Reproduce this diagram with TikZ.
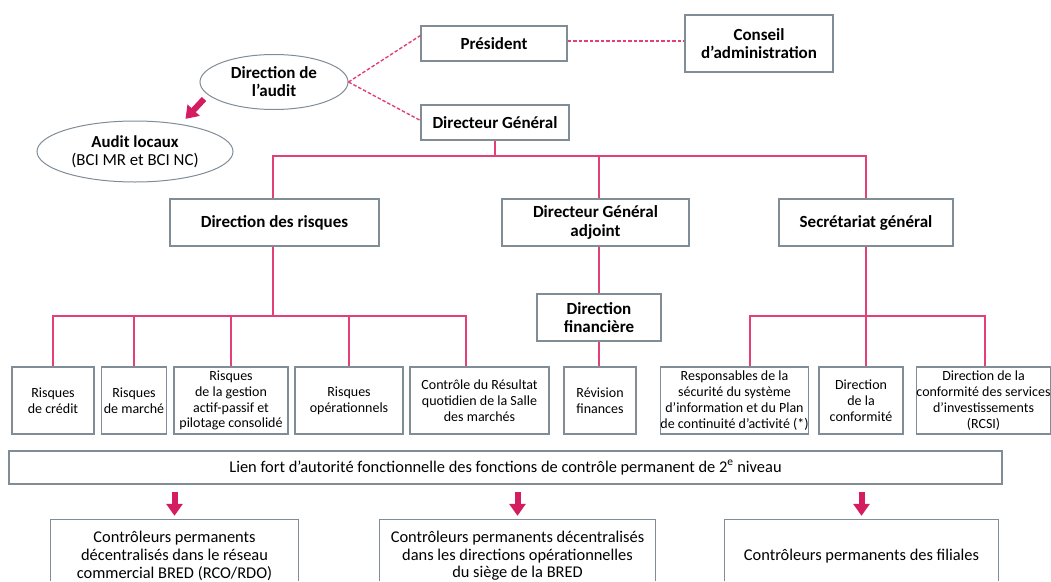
\documentclass[tikz,border=0pt]{standalone}
\usepackage{fontspec}
\setmainfont{Carlito}
\usetikzlibrary{positioning,arrows.meta,shapes.geometric}
\definecolor{boxgray}{RGB}{128,140,150}
\definecolor{linkpink}{RGB}{226,64,118}
\definecolor{arrowpink}{RGB}{212,28,96}
\tikzset{
  box/.style  = {rectangle, draw=boxgray, line width=1.1pt, fill=white,
                 align=center, inner sep=0pt},
  head/.style = {box, font=\bfseries\fontsize{17}{18.5}\selectfont},
  sub/.style  = {box, font=\fontsize{14}{15.8}\selectfont},
  low/.style  = {align=center, inner sep=0pt, font=\fontsize{16.4}{17.6}\selectfont},
  oval/.style = {ellipse, draw=boxgray, line width=1pt, align=center, inner sep=0pt},
  link/.style = {draw=linkpink, line width=1.5pt},
  dlink/.style= {draw=linkpink, dash pattern=on 3.5pt off 2pt, line width=1.4pt},
  bigarr/.style = {draw=arrowpink, fill=arrowpink, line width=6pt,
                   -{Triangle[length=12pt,width=16pt]}}
}

\begin{document}
\begin{tikzpicture}[x=1pt,y=-1pt]
  \useasboundingbox (0,0) rectangle (1051,581);
  \coordinate (bus) at (0,156);
  \coordinate (bus2) at (0,316);
  \coordinate (floor) at (0,581);
  % top
  \node[head,minimum width=146,minimum height=35] (pres) at (494,43.5) {Président};
  \node[head,minimum width=148,minimum height=57] (conseil) at (759,43.5) {Conseil\\d’administration};
  \node[head,minimum width=148,minimum height=35] (dg) at (495,122.5) {Directeur Général};
  \node[oval,minimum width=148,minimum height=55,font=\bfseries\fontsize{17}{18}\selectfont] (audit) at (274,82) {Direction de\\l’audit};
  \node[oval,minimum width=196,minimum height=61,font=\fontsize{16.8}{18}\selectfont] (locaux) at (135,151.5) {\textbf{Audit locaux}\\(BCI MR et BCI NC)};
  \coordinate (auditout) at (204,99);
  \draw[dlink] ([yshift=2.5pt]pres.east) -- ([yshift=2.5pt]conseil.west);
  \draw[dlink] (audit.east) -- ([yshift=8pt]pres.west);
  \draw[dlink] (audit.east) -- ([yshift=2pt]dg.west);
  \draw[bigarr,shorten >=7pt] (auditout) -- (locaux.31);
  % directions
  \node[head,minimum width=209,minimum height=47] (risques) at (274.5,222.5) {Direction des risques};
  \node[head,minimum width=187,minimum height=47] (dga) at (595.5,222.5) {Directeur Général\\adjoint};
  \node[head,minimum width=174,minimum height=47] (sg) at (866,222.5) {Secrétariat général};
  \node[head,minimum width=124,minimum height=47] (df) at (599,317.5) {Direction\\financière};
  \draw[link] (dg.south) -- (dg.south |- bus);
  \draw[link] ([xshift=-1.5pt]risques.north) |- (bus -| sg.north) -- (sg.north);
  \draw[link] (df.north |- bus) -- (df.north |- dga.north);
  \draw[link] (df.north |- dga.south) -- (df.north);
  % services
  \node[sub,minimum width=82,minimum height=67] (r1) at (53,400.5) {Risques\\de crédit};
  \node[sub,minimum width=65,minimum height=67] (r2) at (134,400.5) {Risques\\de marché};
  \node[sub,minimum width=114,minimum height=67] (r3) at (231,400.5) {Risques\\de la gestion\\actif-passif et\\pilotage consolidé};
  \node[sub,minimum width=108,minimum height=67] (r4) at (349,400.5) {Risques\\opérationnels};
  \node[sub,minimum width=139,minimum height=67] (r5) at (479.5,400.5) {Contrôle du Résultat\\quotidien de la Salle\\des marchés};
  \node[sub,minimum width=72,minimum height=67] (rev) at (600,400.5) {Révision\\finances};
  \node[sub,minimum width=147,minimum height=67] (s1) at (734.5,400.5) {Responsables de la\\sécurité du système\\d’information et du Plan\\de continuité d’activité (*)};
  \node[sub,minimum width=84,minimum height=67] (s2) at (861,400.5) {Direction\\de la\\conformité};
  \node[sub,minimum width=133,minimum height=67] (s3) at (983.5,400.5) {Direction de la\\conformité des services\\d’investissements\\(RCSI)};
  \draw[link] ([xshift=-1.5pt]risques.south) -- ([xshift=-1.5pt]risques.south |- bus2);
  \draw[link] (r1.north) |- ([xshift=-13.5pt]r5.north |- bus2) -- ([xshift=-13.5pt]r5.north);
  \foreach \b in {r2,r3,r4}
    \draw[link] (\b.north) -- (\b.north |- bus2);
  \draw[link] (df.south) -- (df.south |- rev.north);
  \draw[link] ([xshift=15.5pt]s1.north) |- ([xshift=1.5pt]bus2 -| s3.north) -- ([xshift=1.5pt]s3.north);
  \draw[link] (sg.south) -- (sg.south |- s2.north);
  % controle permanent
  \node[box,minimum width=993,minimum height=33,font=\fontsize{16.4}{18}\selectfont] (lien) at (505.5,467.5)
    {Lien fort d’autorité fonctionnelle des fonctions de contrôle permanent de 2\textsuperscript{e} niveau};
  \node[low,minimum width=247,minimum height=72] (ba) at (174.5,556) {Contrôleurs permanents\\décentralisés dans le réseau\\commercial BRED (RCO/RDO)};
  \node[low,minimum width=275,minimum height=72] (bb) at (517.5,556) {Contrôleurs permanents décentralisés\\dans les directions opérationnelles\\du siège de la BRED};
  \node[low,minimum width=273,minimum height=72] (bc) at (861.5,556) {Contrôleurs permanents des filiales};
  \foreach \b in {ba,bb,bc} {
    \draw[draw=boxgray,line width=1.1pt] (\b.west |- floor) |- (\b.north) -| (\b.east |- floor);
    \draw[bigarr,shorten <=7pt,shorten >=4pt] (\b.north |- lien.south) -- (\b.north);
  }
\end{tikzpicture}
\end{document}
